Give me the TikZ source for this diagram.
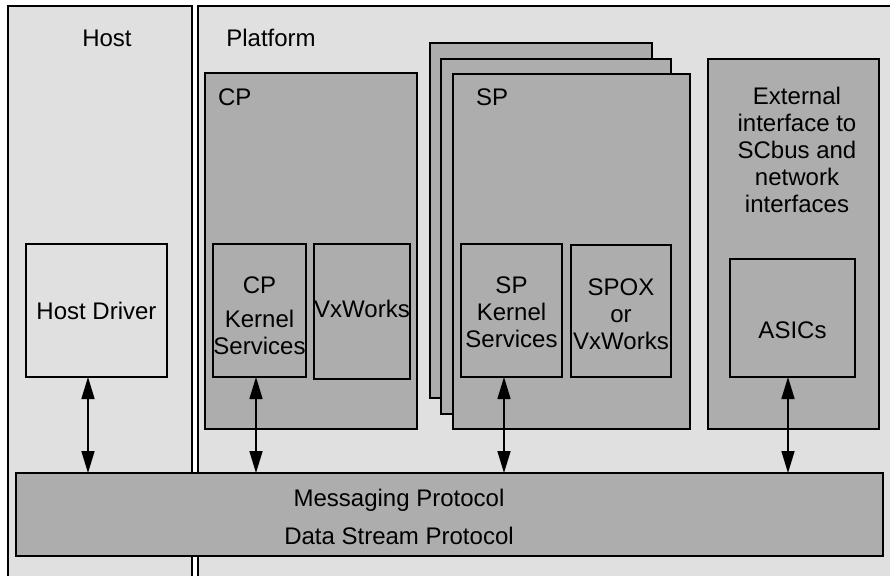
\documentclass[tikz,border=0pt]{standalone}
\usepackage{fontspec}
\setmainfont{Liberation Sans}
\usetikzlibrary{arrows.meta}
\definecolor{paneGray}{HTML}{E0E0E0}
\definecolor{boxGray}{HTML}{ADADAD}
\begin{document}
\begin{tikzpicture}[
    x=0.5pt, y=-0.5pt,
    font=\fontsize{12}{13.4}\selectfont,
    every node/.style={inner sep=0pt, outer sep=0pt},
    pane/.style={rectangle, draw, line width=0.7pt, fill=paneGray, anchor=north west},
    block/.style={rectangle, draw, line width=0.7pt, fill=boxGray, anchor=north west, align=center},
    link/.style={line width=0.8pt, {Triangle[length=11pt,width=6.5pt]}-{Triangle[length=11pt,width=6.5pt]}},
    ]
    \useasboundingbox (0,0) rectangle (890,575);

    % host and platform panels
    \node[pane, minimum width=360pt, minimum height=295pt] (platform) at (198,6) {};
    \node[pane, minimum width=92pt, minimum height=295pt] (host) at (8,6) {};
    \node (hostlbl) at (107,38) {Host};
    \node (platlbl) at (271,38) {Platform};

    \node[pane, minimum width=70.5pt, minimum height=66.5pt] (driver) at (26,244) {Host Driver};

    % control processor
    \node[block, minimum width=106pt, minimum height=178pt] (cp) at (205,73) {};
    \node[anchor=west] (cplbl) at (218,97) {CP};
    \node[block, minimum width=46.5pt, minimum height=66.5pt,
        label={[yshift=-4pt]center:\begin{tabular}{@{}c@{}}CP\\[3.5pt]Kernel\\Services\end{tabular}}] (cpks) at (213,244) {};
    \node[block, minimum width=48pt, minimum height=67.5pt,
        label={[yshift=1.5pt]center:VxWorks}] (vxworks) at (314,244) {};

    % signal processors
    \node[block, minimum width=111pt, minimum height=177.5pt] (spback) at (430,43) {};
    \node[block, minimum width=115pt, minimum height=177.5pt] (spmid) at (441,59) {};
    \node[block, minimum width=118.5pt, minimum height=177.5pt] (sp) at (453,74) {};
    \node[anchor=west] (splbl) at (476,97) {SP};
    \node[block, minimum width=50.5pt, minimum height=66.5pt,
        label={[yshift=-1pt,align=center]center:SP\\Kernel\\Services}] (spks) at (461,244) {};
    \node[block, minimum width=50pt, minimum height=66pt,
        label={[yshift=-1.5pt,align=center]center:SPOX\\or\\VxWorks}] (spox) at (571,245) {};

    % external interface
    \node[block, minimum width=85.5pt, minimum height=185pt] (ext) at (708,59) {};
    \node[align=center] (extlbl) at (797,150) {External\\interface to\\SCbus and\\network\\interfaces};
    \node[block, minimum width=62.5pt, minimum height=59pt,
        label={[yshift=-6pt]center:ASICs}] (asics) at (730,259) {};

    % protocol layer
    \node[block, minimum width=433.5pt, minimum height=41.5pt] (msg) at (16,473) {};
    \node (msgtxt) at (399,500) {Messaging Protocol};
    \node (dsptxt) at (399,536) {Data Stream Protocol};

    \draw[link] ([xshift=-4.25pt]driver.south) -- ([xshift=-4.25pt]driver.south |- msg.north);
    \draw[link] ([xshift=-1.75pt]cpks.south) -- ([xshift=-1.75pt]cpks.south |- msg.north);
    \draw[link] ([xshift=-3.75pt]spks.south) -- ([xshift=-3.75pt]spks.south |- msg.north);
    \draw[link] ([xshift=-2.25pt]asics.south) -- ([xshift=-2.25pt]asics.south |- msg.north);

  \end{tikzpicture}
\end{document}
